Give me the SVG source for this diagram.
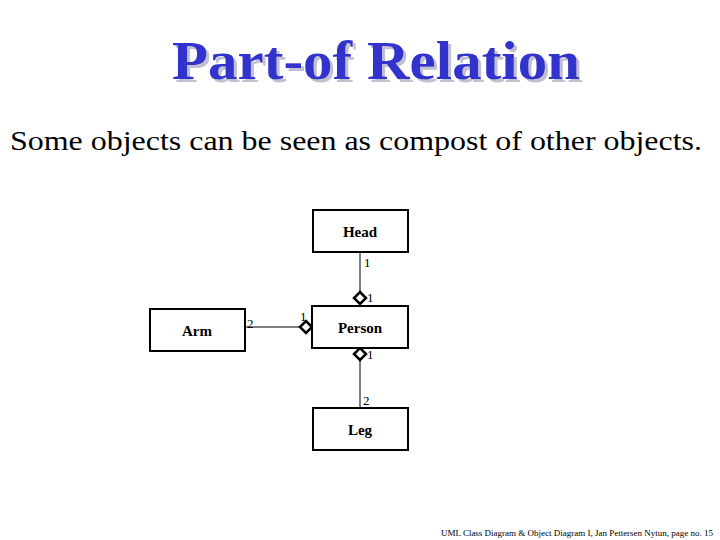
<svg xmlns="http://www.w3.org/2000/svg" width="720" height="540" viewBox="0 0 720 540">
<defs>
<filter id="sh" x="-5%" y="-20%" width="110%" height="140%"><feDropShadow dx="3" dy="3" stdDeviation="0.5" flood-color="#c0c0d0"/></filter>
</defs>
<style>
text{font-family:"Times New Roman","Liberation Serif","DejaVu Serif",serif}
.box{fill:#fff;stroke:#000;stroke-width:2}
.lbl{font-size:15px;text-anchor:middle;font-weight:bold}
.m{font-size:13px}
.ln{stroke:#000;stroke-width:1;fill:none}
.dia{fill:#fff;stroke:#000;stroke-width:2.5}
.t{font-weight:bold;font-size:54px}
</style>
<rect width="720" height="540" fill="#fff"/>
<text class="t" x="172" y="79" fill="#3333cc" filter="url(#sh)" textLength="408" lengthAdjust="spacingAndGlyphs">Part-of Relation</text>
<text x="10" y="150" font-size="27" textLength="692" lengthAdjust="spacingAndGlyphs">Some objects can be seen as compost of other objects.</text>
<g id="connectors">
<line class="ln" x1="360" y1="252" x2="360" y2="292"/>
<line class="ln" x1="360" y1="360" x2="360" y2="408"/>
<line class="ln" x1="245" y1="327" x2="300" y2="327"/>
<path class="dia" d="M360 292 L366 298 L360 304 L354 298 Z"/>
<path class="dia" d="M360 348 L366 354 L360 360 L354 354 Z"/>
<path class="dia" d="M300 327 L306 321 L312 327 L306 333 Z"/>
<text class="m" x="364" y="267">1</text>
<text class="m" x="367" y="302">1</text>
<text class="m" x="367" y="359">1</text>
<text class="m" x="363" y="405">2</text>
<text class="m" x="247" y="328">2</text>
<text class="m" x="300" y="321">1</text>
</g>
<g id="head"><rect class="box" x="313" y="210" width="95" height="42"/><text class="lbl" x="360" y="237">Head</text></g>
<g id="person"><rect class="box" x="312" y="306" width="96" height="42"/><text class="lbl" x="360" y="333">Person</text></g>
<g id="arm"><rect class="box" x="150" y="309" width="95" height="42"/><text class="lbl" x="197" y="336">Arm</text></g>
<g id="leg"><rect class="box" x="313" y="408" width="95" height="42"/><text class="lbl" x="360" y="435">Leg</text></g>
<text x="441" y="536" font-size="8.5" textLength="272" lengthAdjust="spacingAndGlyphs">UML Class Diagram &amp; Object Diagram I, Jan Pettersen Nytun, page no. 15</text>
</svg>
